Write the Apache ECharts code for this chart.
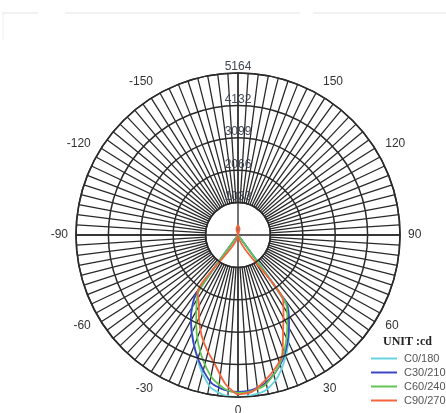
<!DOCTYPE html>
<html>
<head>
<meta charset="utf-8">
<script src="https://cdn.jsdelivr.net/npm/echarts@6/dist/echarts.min.js"></script>
<style>
html,body{margin:0;padding:0;background:#fff;}
#c{width:446px;height:413px;}
</style>
</head>
<body>
<div id="c"></div>
<script>
// ---- data ----
const seriesNames = ['C0/180', 'C30/210', 'C60/240', 'C90/270'];
const angles = [-180, -165, -150, -40, -35, -30, -25, -20, -15, -10, -5, 0, 5, 10, 15, 20, 25, 30, 35, 40, 150, 165, 180];
const c0_180  = [0, 0, 0, 0, 2350, 3000, 3450, 3950, 4500, 4950, 5120, 5164, 5120, 5030, 4750, 4300, 3800, 3250, 2750, 0, 0, 0, 0];
const c30_210 = [0, 0, 0, 0, 2380, 3000, 3480, 3950, 4400, 4800, 4960, 5000, 4960, 4820, 4550, 4200, 3750, 3250, 2700, 0, 0, 0, 0];
const c60_240 = [0, 0, 0, 0, 2200, 2650, 3150, 3700, 4200, 4650, 4920, 5030, 5000, 4870, 4550, 4150, 3650, 3150, 2650, 0, 0, 0, 0];
const c90_270 = [320, 200, 0, 0, 2250, 2500, 2940, 3400, 3800, 4200, 4750, 5080, 5020, 4750, 4450, 4100, 3400, 2900, 2500, 0, 0, 200, 320];
const ringLabels = ['1033', '2066', '3099', '4132', '5164'];
const angleLabels = ['-150', '-120', '-90', '-60', '-30', '0', '30', '60', '90', '120', '150'];
const maxCd = 5164;
const colors = ['#66d3de', '#3a46c6', '#62c452', '#f2653a'];

const allSeries = [c0_180, c30_210, c60_240, c90_270];

const chart = echarts.init(document.getElementById('c'));
const center = [238, 235];
const R = 162;
const gridColor = '#2a2a2a';

chart.setOption({
  animation: false,
  backgroundColor: '#fff',
  title: {
    text: 'UNIT :cd',
    left: 378, top: 331,
    textStyle: { fontFamily: 'Liberation Serif', fontWeight: 'bold', fontSize: 12, color: '#222' }
  },
  legend: {
    data: seriesNames,
    orient: 'vertical',
    left: 366, top: 348,
    itemWidth: 26, itemHeight: 2, itemGap: 3,
    icon: 'rect',
    textStyle: { fontFamily: 'Liberation Sans', fontSize: 11, color: '#555', padding: [0,0,0,2] }
  },
  graphic: [
    { type: 'line', shape: { x1: 2, y1: 13, x2: 38, y2: 13 }, style: { stroke: '#e4e4e4', lineWidth: 1 } },
    { type: 'line', shape: { x1: 65, y1: 13, x2: 300, y2: 13 }, style: { stroke: '#e4e4e4', lineWidth: 1 } },
    { type: 'line', shape: { x1: 313, y1: 13, x2: 446, y2: 13 }, style: { stroke: '#e4e4e4', lineWidth: 1 } },
    { type: 'line', shape: { x1: 3, y1: 13, x2: 3, y2: 40 }, style: { stroke: '#eeeeee', lineWidth: 1 } }
  ],
  polar: [
    { center: center, radius: [R / 5, R] },
    { center: center, radius: [0, R] },
    { center: center, radius: [0, R] }
  ],
  angleAxis: [
    { polarIndex: 0, type: 'value', min: -180, max: 180, interval: 3.6, startAngle: 90, clockwise: false,
      axisLine: { show: true, lineStyle: { color: gridColor, width: 1.5 } },
      axisTick: { show: false }, axisLabel: { show: false },
      splitLine: { show: true, lineStyle: { color: gridColor, width: 1.3 } } },
    { polarIndex: 1, type: 'value', min: -180, max: 180, interval: 90, startAngle: 90, clockwise: false,
      axisLine: { show: false }, axisTick: { show: false }, axisLabel: { show: false },
      splitLine: { show: true, lineStyle: { color: gridColor, width: 1.3 } } },
    { polarIndex: 2, type: 'value', min: -180, max: 180, interval: 30, startAngle: 90, clockwise: false,
      axisLine: { show: false }, axisTick: { show: false }, splitLine: { show: false },
      axisLabel: { show: true, margin: 8, fontFamily: 'Liberation Sans', fontSize: 12, color: '#333',
        formatter: v => angleLabels.includes(String(v)) ? String(v) : '' } }
  ],
  radiusAxis: [
    { polarIndex: 0, type: 'value', min: 1, max: 5, interval: 1,
      axisLine: { show: false }, axisTick: { show: false },
      splitLine: { show: true, lineStyle: { color: gridColor, width: 1.5 } },
      axisLabel: { show: true, margin: 0, align: 'center', verticalAlign: 'bottom',
        fontFamily: 'Liberation Sans', fontSize: 12, color: '#3f4654',
        formatter: v => ringLabels[v - 1] || '' },
      z: 10 },
    { polarIndex: 1, type: 'value', min: 0, max: maxCd,
      axisLine: { show: false }, axisTick: { show: false }, axisLabel: { show: false }, splitLine: { show: false } },
    { polarIndex: 2, type: 'value', min: 0, max: maxCd,
      axisLine: { show: false }, axisTick: { show: false }, axisLabel: { show: false }, splitLine: { show: false } }
  ],
  series: seriesNames.map((name, i) => ({
    name: name,
    type: 'line',
    coordinateSystem: 'polar',
    polarIndex: 1,
    showSymbol: false,
    symbol: 'none',
    smooth: 0.2,
    color: colors[i],
    lineStyle: { width: 1.8, color: colors[i] },
    data: angles.map((a, k) => [allSeries[i][k], a])
  }))
});
</script>
</body>
</html>
